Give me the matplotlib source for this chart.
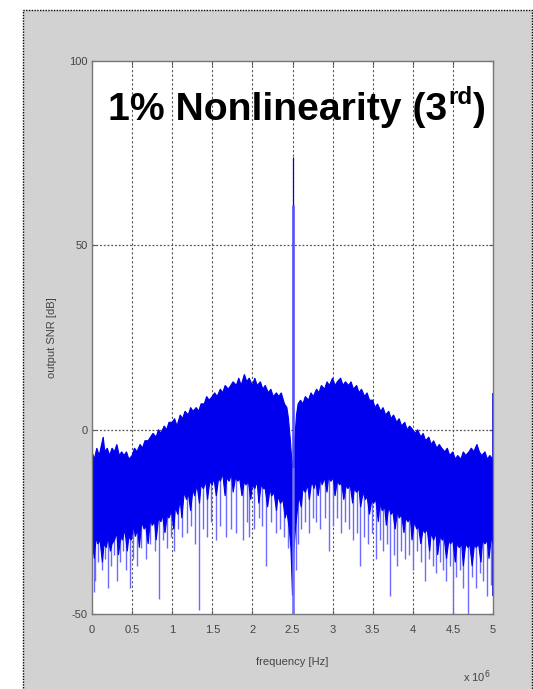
import numpy as np
import matplotlib
matplotlib.use("Agg")
import matplotlib.pyplot as plt
from matplotlib.patches import Rectangle

# ---------------- data (frequency in units of 1e6 Hz, level in dB) ----------------
# upper edge of the dense noise band
upper_points = [
    (0.00, -6), (0.03, -8), (0.06, -5), (0.09, -7), (0.12, -4), (0.14, -2), (0.16, -6), (0.19, -5),
    (0.22, -7), (0.25, -5), (0.28, -6), (0.31, -4), (0.34, -7), (0.37, -6), (0.40, -7), (0.43, -6),
    (0.46, -8), (0.50, -7), (0.53, -5), (0.56, -6), (0.60, -4), (0.63, -5), (0.66, -3), (0.70, -3),
    (0.73, -2), (0.76, -1), (0.80, -2), (0.83, 0), (0.86, -1), (0.90, 1), (0.93, 0), (0.96, 2),
    (1.00, 2), (1.03, 3), (1.06, 1), (1.10, 4), (1.13, 3), (1.16, 5), (1.20, 4), (1.23, 6),
    (1.26, 5), (1.30, 6), (1.33, 5), (1.36, 7), (1.40, 7), (1.43, 9), (1.46, 8), (1.50, 9),
    (1.53, 10), (1.56, 9), (1.60, 11), (1.63, 10), (1.66, 12), (1.70, 11), (1.73, 12), (1.76, 13),
    (1.80, 12), (1.83, 14), (1.86, 12), (1.90, 15), (1.93, 13), (1.96, 14), (2.00, 12), (2.03, 14),
    (2.06, 12), (2.10, 13), (2.13, 11), (2.16, 12), (2.20, 10), (2.23, 11), (2.26, 9), (2.30, 10),
    (2.33, 9), (2.36, 10), (2.40, 7), (2.43, 6), (2.45, 3), (2.47, -2), (2.49, -8), (2.50, -12),
    (2.51, -8), (2.53, -2), (2.55, 4), (2.57, 7), (2.60, 8), (2.63, 7), (2.66, 9), (2.70, 8),
    (2.73, 10), (2.76, 9), (2.80, 11), (2.83, 10), (2.86, 12), (2.90, 11), (2.93, 13), (2.96, 12),
    (3.00, 14), (3.03, 12), (3.06, 13), (3.10, 14), (3.13, 12), (3.16, 13), (3.20, 12), (3.23, 13),
    (3.26, 11), (3.30, 12), (3.33, 10), (3.36, 11), (3.40, 9), (3.43, 10), (3.46, 8), (3.50, 8),
    (3.53, 6), (3.56, 7), (3.60, 5), (3.63, 6), (3.66, 4), (3.70, 5), (3.73, 3), (3.76, 4),
    (3.80, 2), (3.83, 3), (3.86, 1), (3.90, 2), (3.93, 0), (3.96, 1), (4.00, 0), (4.03, -1),
    (4.06, 0), (4.10, -2), (4.13, -1), (4.16, -3), (4.20, -2), (4.23, -4), (4.26, -3), (4.30, -5),
    (4.33, -4), (4.36, -5), (4.40, -6), (4.43, -5), (4.46, -7), (4.50, -6), (4.53, -8), (4.56, -7),
    (4.60, -8), (4.63, -6), (4.66, -7), (4.70, -6), (4.73, -5), (4.76, -6), (4.80, -4), (4.83, -6),
    (4.86, -7), (4.90, -6), (4.93, -8), (4.96, -7), (5.00, -8)]

# lower (ragged) edge of the dense noise band
lower_points = [
    (0.00, -30), (0.03, -35), (0.05, -29), (0.07, -31), (0.10, -30), (0.13, -36), (0.15, -31),
    (0.18, -32), (0.20, -29), (0.23, -33), (0.25, -31), (0.28, -30), (0.31, -28), (0.33, -34),
    (0.36, -29), (0.38, -30), (0.41, -27), (0.44, -33), (0.46, -29), (0.49, -30), (0.52, -26),
    (0.54, -29), (0.57, -27), (0.59, -32), (0.62, -25), (0.65, -27), (0.67, -26), (0.70, -31),
    (0.73, -24), (0.75, -26), (0.78, -25), (0.80, -30), (0.83, -24), (0.86, -25), (0.88, -23),
    (0.91, -28), (0.94, -23), (0.96, -24), (0.99, -22), (1.02, -27), (1.04, -21), (1.07, -23),
    (1.10, -19), (1.12, -24), (1.15, -17), (1.18, -19), (1.20, -17), (1.23, -22), (1.26, -16),
    (1.28, -18), (1.31, -15), (1.34, -20), (1.36, -15), (1.39, -16), (1.42, -14), (1.44, -19),
    (1.47, -14), (1.50, -15), (1.52, -13), (1.55, -18), (1.58, -13), (1.60, -14), (1.63, -12),
    (1.66, -18), (1.68, -13), (1.71, -14), (1.74, -12), (1.76, -17), (1.79, -13), (1.82, -14),
    (1.84, -13), (1.87, -18), (1.90, -14), (1.92, -15), (1.95, -14), (1.98, -19), (2.00, -15),
    (2.03, -16), (2.06, -14), (2.08, -20), (2.11, -15), (2.14, -16), (2.16, -16), (2.19, -21),
    (2.22, -16), (2.24, -18), (2.27, -17), (2.30, -22), (2.32, -18), (2.35, -20), (2.38, -19),
    (2.41, -24), (2.43, -22), (2.46, -27), (2.48, -32), (2.49, -38), (2.50, -45), (2.51, -38),
    (2.52, -32), (2.54, -26), (2.56, -22), (2.58, -18), (2.61, -21), (2.63, -16), (2.66, -17),
    (2.69, -15), (2.71, -19), (2.74, -14), (2.77, -16), (2.79, -14), (2.82, -18), (2.85, -13),
    (2.87, -15), (2.90, -13), (2.93, -17), (2.95, -13), (2.98, -14), (3.01, -13), (3.03, -18),
    (3.06, -14), (3.09, -15), (3.11, -14), (3.14, -19), (3.17, -15), (3.19, -16), (3.22, -15),
    (3.25, -20), (3.27, -16), (3.30, -17), (3.33, -16), (3.35, -21), (3.38, -17), (3.41, -19),
    (3.43, -18), (3.46, -23), (3.49, -19), (3.51, -20), (3.54, -19), (3.57, -25), (3.59, -20),
    (3.62, -22), (3.65, -21), (3.67, -26), (3.70, -21), (3.73, -23), (3.75, -22), (3.78, -27),
    (3.81, -22), (3.83, -24), (3.86, -23), (3.89, -28), (3.91, -24), (3.94, -25), (3.97, -24),
    (3.99, -30), (4.02, -25), (4.05, -27), (4.07, -26), (4.10, -31), (4.13, -27), (4.15, -28),
    (4.18, -27), (4.21, -33), (4.23, -28), (4.26, -30), (4.29, -28), (4.31, -34), (4.34, -29),
    (4.37, -30), (4.39, -29), (4.42, -35), (4.45, -30), (4.47, -31), (4.50, -30), (4.53, -36),
    (4.55, -31), (4.58, -32), (4.61, -31), (4.63, -37), (4.66, -31), (4.69, -32), (4.71, -31),
    (4.74, -37), (4.77, -31), (4.79, -32), (4.82, -31), (4.85, -36), (4.87, -30), (4.90, -31),
    (4.93, -30), (4.95, -35), (4.98, -29), (5.00, -31)]

# isolated deep minima below the band (frequency, bottom level)
spike_freq = [0.02, 0.04, 0.08, 0.12, 0.16, 0.20, 0.24, 0.28, 0.31, 0.35, 0.39, 0.43, 0.47, 0.51,
              0.56, 0.61, 0.67, 0.72, 0.78, 0.83, 0.88, 0.93, 0.98, 1.02, 1.07, 1.12, 1.18, 1.23,
              1.28, 1.33, 1.38, 1.43, 1.48, 1.55, 1.60, 1.67, 1.73, 1.80, 1.88, 1.93, 1.96, 2.02,
              2.08, 2.12, 2.17, 2.23, 2.29, 2.35, 2.40, 2.44,
              2.54, 2.57, 2.61, 2.65, 2.70, 2.75, 2.79, 2.84, 2.90, 2.96, 3.01, 3.06, 3.11, 3.16,
              3.21, 3.26, 3.30, 3.34, 3.39, 3.44, 3.49, 3.54, 3.59, 3.63, 3.68, 3.72, 3.76, 3.80,
              3.85, 3.90, 3.95, 4.00, 4.05, 4.10, 4.15, 4.20, 4.25, 4.29, 4.34, 4.38, 4.42, 4.46,
              4.50, 4.54, 4.59, 4.63, 4.69, 4.74, 4.79, 4.84, 4.88, 4.93, 4.97]
spike_db = [-44, -41, -36, -38, -35, -43, -37, -34, -41, -36, -33, -38, -43, -35,
            -37, -32, -35, -31, -33, -46, -30, -32, -29, -33, -27, -29, -28, -26,
            -31, -49, -27, -29, -25, -30, -26, -29, -27, -28, -30, -25, -29, -27,
            -24, -26, -37, -25, -28, -27, -29, -32,
            -38, -31, -27, -25, -28, -24, -25, -27, -24, -33, -26, -24, -28, -25,
            -27, -30, -28, -37, -29, -31, -28, -35, -30, -33, -31, -45, -34, -37,
            -33, -35, -34, -38, -33, -36, -41, -35, -37, -39, -36, -38, -41, -37,
            -50, -40, -38, -43, -50, -40, -43, -39, -41, -45, -42]

carrier_freq = 2.5
carrier_peak_db = 74
carrier_shoulder_db = 61
edge_freq = [0.0, 5.0]
edge_top_db = [10.5, 10.0]
edge_bottom_db = [-46, -45]

x_ticks = [0, 0.5, 1, 1.5, 2, 2.5, 3, 3.5, 4, 4.5, 5]
x_tick_labels = ["0", "0.5", "1", "1.5", "2", "2.5", "3", "3.5", "4", "4.5", "5"]
y_ticks = [-50, 0, 50, 100]
y_tick_labels = ["-50", "0", "50", "100"]

title_main = "1% Nonlinearity (3"
title_sup = "rd"
title_end = ")"
x_label = "frequency [Hz]"
y_label = "output SNR [dB]"
offset_label = "x 10$^{6}$"

upper_freq = [p[0] for p in upper_points]
upper_db = [p[1] for p in upper_points]
lower_freq = [p[0] for p in lower_points]
lower_db = [p[1] for p in lower_points]

font = ["Liberation Sans", "DejaVu Sans"]

W, H = 533, 689
fig = plt.figure(figsize=(W / 100, H / 100), dpi=100)
fig.patch.set_facecolor("white")

# grey panel with dotted border
panel = Rectangle((23 / W, -0.01), (532 - 23) / W, 1 - 10 / H + 0.01,
                  transform=fig.transFigure, facecolor="#d2d2d2",
                  edgecolor="black", linestyle=(0, (1, 1)), linewidth=1.0, zorder=-5)
fig.patches.append(panel)

ax = fig.add_axes([92 / W, 1 - 614 / H, (493 - 92) / W, (614 - 61) / H])
ax.set_zorder(1)
ax.set_facecolor("white")
ax.set_xlim(0, 5)
ax.set_ylim(-50, 100)

blue = "#0000ee"
# deep minima (beneath the dense band)
ax.vlines(spike_freq, -10, spike_db, color="#6b6bff", linewidth=1.0, zorder=2)
# dense noise band
poly_x = upper_freq + lower_freq[::-1]
poly_y = upper_db + lower_db[::-1]
ax.fill(poly_x, poly_y, color=blue, linewidth=0.8, edgecolor=blue, zorder=3)
# carrier line and notch
ax.vlines([carrier_freq], -50, carrier_peak_db, color=blue, linewidth=0.9, zorder=4)
ax.vlines([carrier_freq], -10, carrier_shoulder_db, color="#5050ff", linewidth=1.8, zorder=4)
ax.vlines([carrier_freq], -50, -10, color="#7070ff", linewidth=1.8, zorder=4)
# spikes at the band edges
ax.vlines(edge_freq, edge_bottom_db, edge_top_db, color=blue, linewidth=1.2, zorder=4)

# grid
for xv in x_ticks[1:-1]:
    ax.axvline(xv, color="#555555", linestyle=(0, (2, 2)), linewidth=0.8, zorder=1)
for yv in y_ticks[1:-1]:
    ax.axhline(yv, color="#555555", linestyle=(0, (1.5, 1.5)), linewidth=0.9, zorder=1)

for s in ax.spines.values():
    s.set_color("#777777")
    s.set_linewidth(1.0)
    s.set_zorder(5)

ax.set_xticks(x_ticks)
ax.set_xticklabels(x_tick_labels)
ax.set_yticks(y_ticks)
ax.set_yticklabels(y_tick_labels)
ax.tick_params(direction="in", length=3, color="#555555", top=True, right=True,
               labelsize=8, labelcolor="#444444")
ax.tick_params(axis="x", pad=8)
ax.tick_params(axis="y", pad=3)
for lab in ax.get_xticklabels() + ax.get_yticklabels():
    lab.set_family(font)

ax.set_xlabel(x_label, fontsize=8, color="#444444", family=font, labelpad=16)
ax.set_ylabel(y_label, fontsize=8, color="#444444", family=font, labelpad=9)
fig.text(477 / W, 1 - 677 / H, offset_label, fontsize=8,
         color="#444444", family=font, ha="center", va="center")

# title inside the axes; font size chosen so the title spans ~108..487 px
inv = ax.transData.inverted()
x0_px = 108.0
base_px = ax.transData.transform((0, 84))[1]


def place_title(fs):
    kw = dict(fontweight="bold", family=font, color="black", va="baseline",
              ha="left", zorder=6)
    t1 = ax.text(inv.transform((x0_px, base_px))[0], 84, title_main, fontsize=fs, **kw)
    fig.canvas.draw()
    bb = t1.get_window_extent()
    sup_px = base_px + 0.42 * fs * 100 / 72
    t2 = ax.text(inv.transform((bb.x1 + 1, sup_px))[0], inv.transform((0, sup_px))[1],
                 title_sup, fontsize=fs * 0.62, **kw)
    fig.canvas.draw()
    bb2 = t2.get_window_extent()
    t3 = ax.text(inv.transform((bb2.x1 + 1, base_px))[0], 84, title_end, fontsize=fs, **kw)
    fig.canvas.draw()
    bb3 = t3.get_window_extent()
    return [t1, t2, t3], bb3.x1 - x0_px


target_px = 487 - 108
ts, width = place_title(30.0)
for _ in range(2):
    if abs(width - target_px) <= 2:
        break
    new_fs = ts[0].get_fontsize() * target_px / width
    for t in ts:
        t.remove()
    ts, width = place_title(new_fs)

fig.savefig("out.png", dpi=100)
